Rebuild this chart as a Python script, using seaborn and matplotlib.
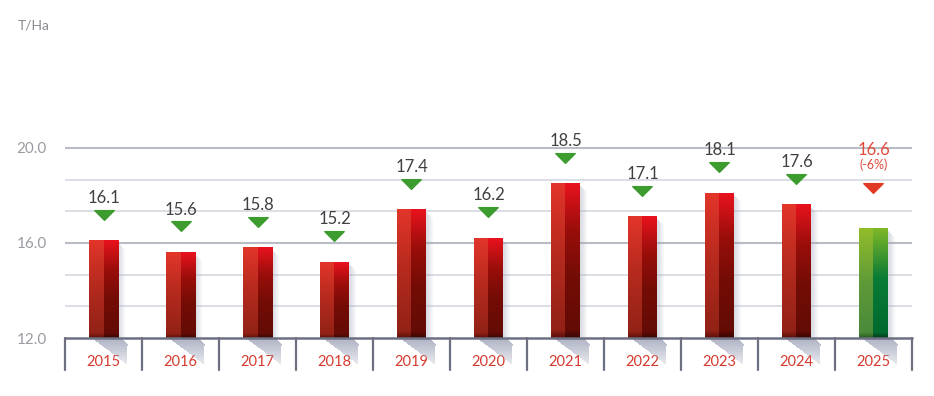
import numpy as np
import matplotlib
matplotlib.use("Agg")
import matplotlib.pyplot as plt
import seaborn as sns
import pandas as pd
from matplotlib.colors import LinearSegmentedColormap, to_rgb
from matplotlib.patches import Polygon
from matplotlib.path import Path
import matplotlib.transforms as mtransforms

# ---------------- data ----------------
years = ['2015', '2016', '2017', '2018', '2019', '2020', '2021', '2022', '2023', '2024', '2025']
values = [16.1, 15.6, 15.8, 15.2, 17.4, 16.2, 18.5, 17.1, 18.1, 17.6, 16.6]
value_labels = ['16.1', '15.6', '15.8', '15.2', '17.4', '16.2', '18.5', '17.1', '18.1', '17.6', '16.6']
highlight_year = '2025'
highlight_note = '(-6%)'
unit_label = 'T/Ha'
y_ticks = [12.0, 16.0, 20.0]
y_min = 12.0

# ---------------- style ----------------
sns.set_theme(style='white')
plt.rcParams['font.family'] = ['Lato', 'DejaVu Sans']

W, H = 934, 396
fig = plt.figure(figsize=(W / 100, H / 100), dpi=100)
ax_left, ax_right, ax_bottom, ax_top = 65, 912, 338, 100   # pixels
ax = fig.add_axes([ax_left / W, 1 - ax_bottom / H, (ax_right - ax_left) / W, (ax_bottom - ax_top) / H])

px_per_unit_y = 23.75
y_max = y_min + (ax_bottom - ax_top) / px_per_unit_y
px_per_unit_x = (ax_right - ax_left) / len(years)
py = lambda p: p / px_per_unit_y
px = lambda p: p / px_per_unit_x

df = pd.DataFrame({'year': years, 'value': values})
sns.barplot(data=df, x='year', y='value', width=0.38, color='#c0281e', ax=ax, zorder=3)

# gradients
red_left = LinearSegmentedColormap.from_list('rl', [(0, '#e3352a'), (0.45, '#b72a1e'), (0.95, '#922216'), (1, '#5a1008')])
red_right = LinearSegmentedColormap.from_list('rr', [(0, '#ea121e'), (0.3, '#9a0e0a'), (0.6, '#740c06'), (0.95, '#640b05'), (1, '#380603')])
grn_left = LinearSegmentedColormap.from_list('gl', [(0, '#92bd2a'), (0.5, '#5f9a38'), (0.95, '#4a8a3a'), (1, '#2a5a20')])
grn_right = LinearSegmentedColormap.from_list('gr', [(0, '#80b828'), (0.45, '#0a7c36'), (0.95, '#006a2e'), (1, '#003c1c')])
grad = np.linspace(0, 1, 256).reshape(-1, 1)

shadow_rgb = to_rgb('#9ca1b6')

for i, p in enumerate(ax.patches[:len(years)]):
    x0 = p.get_x()
    w = p.get_width()
    top = p.get_height()
    p.set_visible(False)
    green = years[i] == highlight_year
    cl, cr = (grn_left, grn_right) if green else (red_left, red_right)
    ax.imshow(grad, cmap=cl, extent=(x0, x0 + w / 2, y_min, top), aspect='auto', origin='upper', zorder=3, interpolation='bilinear')
    ax.imshow(grad, cmap=cr, extent=(x0 + w / 2, x0 + w, y_min, top), aspect='auto', origin='upper', zorder=3, interpolation='bilinear')
    R = x0 + w
    # right side shadow: vertical strips fading to the right
    nstrip = 7
    for j in range(nstrip):
        xa, xb = R + px(j), R + px(j + 1)
        ya = top - py(2 + j)
        a = 0.40 * (1 - j / nstrip)
        ax.add_patch(Polygon([(xa, ya), (xb, ya - py(1)), (xb, y_min), (xa, y_min)], closed=True,
                             facecolor=shadow_rgb, edgecolor='none', alpha=a, zorder=2.5))
    # ground shadow: horizontal bands fading downward
    a_px, b_px, c_px, knee, depth = 4, w * px_per_unit_x + 2, w * px_per_unit_x + 9, 7, 26
    nb = 13
    for j in range(nb):
        d1, d2 = depth * j / nb, depth * (j + 1) / nb

        def lx(d):
            return a_px + (c_px - a_px) * d / depth

        def rx(d):
            return b_px + (c_px - b_px) * min(d / knee, 1.0)
        pts = [(lx(d1), d1), (rx(d1), d1)]
        if d1 < knee < d2:
            pts.append((rx(knee), knee))
        pts += [(rx(d2), d2), (lx(d2), d2)]
        poly = [(x0 + px(xx), y_min - py(dd)) for xx, dd in pts]
        a = 0.80 - 0.60 * (j / nb)
        ax.add_patch(Polygon(poly, closed=True, facecolor=shadow_rgb, edgecolor='none', alpha=a,
                             zorder=2.5, clip_on=False, antialiased=False))

# grid lines
for k in range(1, 7):
    yv = y_min + k * 4 / 3
    major = abs(yv - 20) < 1e-6 or abs(yv - 16) < 1e-6
    ax.axhline(yv, color='#b9bbc5' if major else '#d6d8e0', lw=1.5 if major else 1.2, zorder=1)

# axis line & separators
ax.axhline(y_min, color='#6c7082', lw=1.8, zorder=4, clip_on=False)
sep_len = 32 / (ax_bottom - ax_top)
trans = mtransforms.blended_transform_factory(ax.transData, ax.transAxes)
for b in np.arange(-0.5, len(years), 1.0):
    ax.plot([b, b], [0, -sep_len], color='#6c7082', lw=1.6, transform=trans, clip_on=False, zorder=4)

# markers and labels
tri = Path([(-1, 0.5), (1, 0.5), (0, -0.5), (-1, 0.5)], [Path.MOVETO, Path.LINETO, Path.LINETO, Path.CLOSEPOLY])
for i, (v, lab) in enumerate(zip(values, value_labels)):
    if years[i] == highlight_year:
        ax.plot(i, v + py(41), marker=tri, markersize=14, color='#e23b24', zorder=5, clip_on=False)
        ax.text(i, v + py(79), lab, ha='center', va='center', fontsize=12, color='#e04a3a', zorder=5)
        ax.text(i, v + py(64), highlight_note, ha='center', va='center', fontsize=9, color='#e04a3a', zorder=5)
    else:
        ax.plot(i, v + py(26), marker=tri, markersize=14, color='#3c9c2e', zorder=5, clip_on=False)
        ax.text(i, v + py(43), lab, ha='center', va='center', fontsize=12, color='#404040', zorder=5)

ax.set_xlim(-0.5, len(years) - 0.5)
ax.set_ylim(y_min, y_max)
ax.set_yticks(y_ticks)
ax.set_yticklabels([f'{t:.1f}' for t in y_ticks], color='#9a9aa2', fontsize=11)
ax.tick_params(axis='y', length=0, pad=13)
ax.tick_params(axis='x', length=0, pad=12, labelsize=10.5, labelcolor='#d63a2e')
ax.set_xlabel('')
ax.set_ylabel('')
for s in ax.spines.values():
    s.set_visible(False)
ax.set_facecolor('none')

fig.text(18 / W, 1 - 25 / H, unit_label, ha='left', va='center', fontsize=10, color='#8a8a92')

fig.savefig('out.png', dpi=100)
